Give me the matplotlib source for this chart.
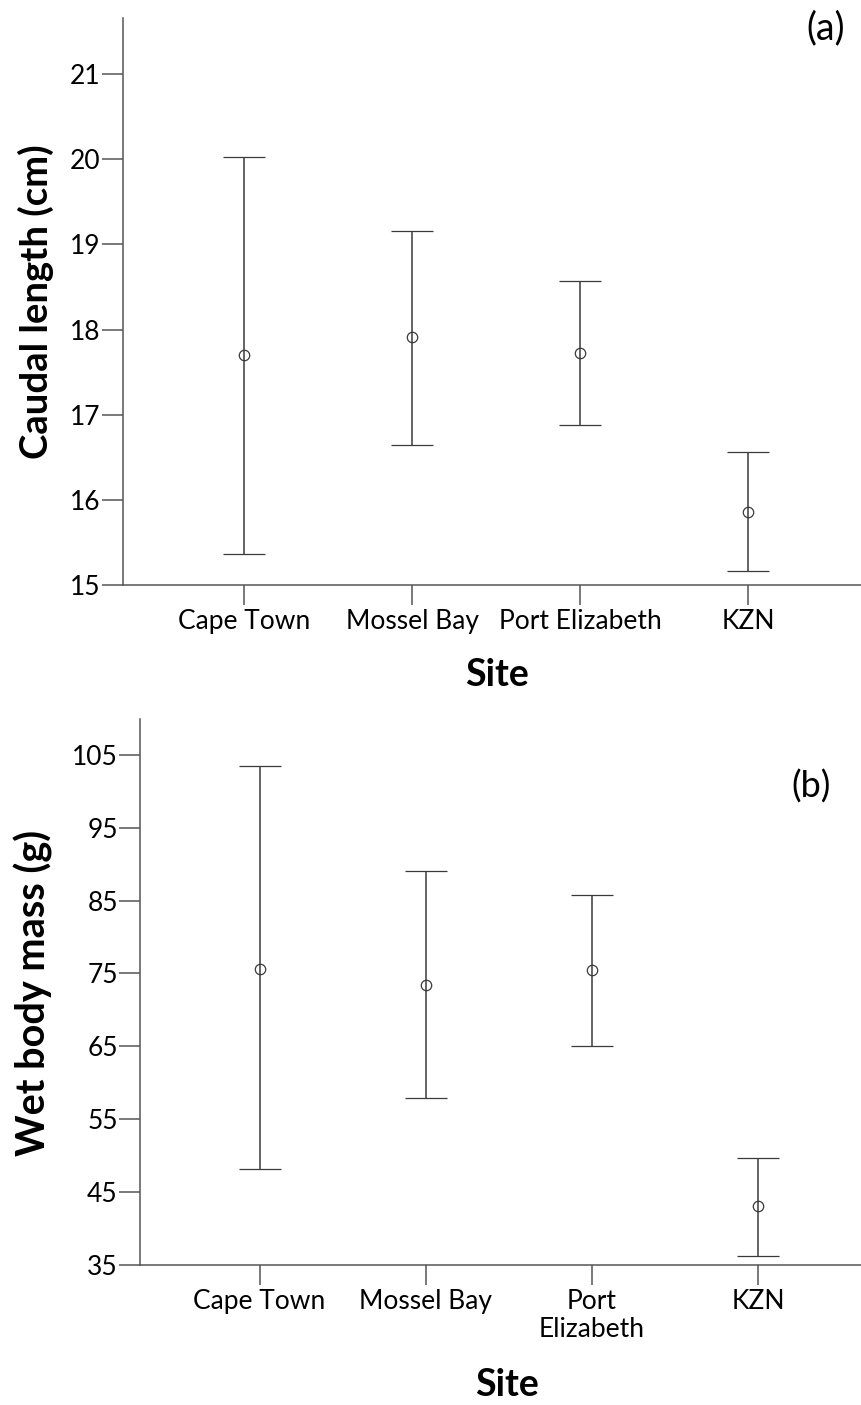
import matplotlib.pyplot as plt

plt.rcParams['font.family'] = ['Lato', 'DejaVu Sans']

# data (mean with lower / upper error bar ends)
sites_a = ['Cape Town', 'Mossel Bay', 'Port Elizabeth', 'KZN']
sites_b = ['Cape Town', 'Mossel Bay', 'Port\nElizabeth', 'KZN']

caudal_mean = [17.70, 17.91, 17.73, 15.86]
caudal_low = [15.36, 16.65, 16.88, 15.17]
caudal_high = [20.03, 19.16, 18.57, 16.56]

mass_mean = [75.6, 73.4, 75.4, 43.1]
mass_low = [48.2, 57.9, 65.0, 36.3]
mass_high = [103.4, 89.0, 85.7, 49.7]

caudal_ticks = [15, 16, 17, 18, 19, 20, 21]
mass_ticks = [35, 45, 55, 65, 75, 85, 95, 105]

W, H = 861, 1405
LINE = '#3a3a3a'
SPINE = '#555555'


def fx(x):
    return x / W


def fy(y):
    return 1 - y / H


def panel(ax, names, mean, low, high, ticks, ylim, xlim, ylabel, ylabel_size):
    pos = list(range(1, len(names) + 1))
    yerr = [[m - l for m, l in zip(mean, low)], [h - m for m, h in zip(mean, high)]]
    ax.errorbar(pos, mean, yerr=yerr, fmt='o', color=LINE, ecolor=LINE,
                elinewidth=1.1, capsize=15, capthick=1.1, markersize=7.5,
                markerfacecolor='none', markeredgecolor=LINE, markeredgewidth=0.9)
    ax.set_xlim(*xlim)
    ax.set_ylim(*ylim)
    ax.set_xticks(pos)
    ax.set_xticklabels(names, fontsize=19, linespacing=1.15)
    ax.set_yticks(ticks)
    ax.set_yticklabels([str(t) for t in ticks], fontsize=19)
    ax.tick_params(axis='y', length=15, width=1.1, color=SPINE, pad=1)
    ax.tick_params(axis='x', length=14.5, width=1.1, color=SPINE, pad=3)
    for s in ['top', 'right']:
        ax.spines[s].set_visible(False)
    for s in ['left', 'bottom']:
        ax.spines[s].set_color(SPINE)
        ax.spines[s].set_linewidth(1.1)
    ax.set_ylabel(ylabel, fontsize=ylabel_size, fontweight='bold', va='center')
    ax.set_xlabel('Site', fontsize=27, fontweight='bold', va='center')


fig = plt.figure(figsize=(W / 100, H / 100), dpi=100)

ax_a = fig.add_axes([fx(123), fy(585), fx(861) - fx(123), fy(18) - fy(585)])
panel(ax_a, sites_a, caudal_mean, caudal_low, caudal_high, caudal_ticks,
      (15, 21.66), (0.28, 4.67), 'Caudal length (cm)', 27.5)
ax_a.yaxis.set_label_coords(fx(36), fy(302), transform=fig.transFigure)
ax_a.xaxis.set_label_coords(fx(497), fy(675), transform=fig.transFigure)
fig.text(fx(826), fy(28), '(a)', fontsize=27, ha='center', va='center')

ax_b = fig.add_axes([fx(140), fy(1265), fx(861) - fx(140), fy(719) - fy(1265)])
panel(ax_b, sites_b, mass_mean, mass_low, mass_high, mass_ticks,
      (35, 109.9), (0.28, 4.62), 'Wet body mass (g)', 28.5)
ax_b.yaxis.set_label_coords(fx(33), fy(993), transform=fig.transFigure)
ax_b.xaxis.set_label_coords(fx(507), fy(1385), transform=fig.transFigure)
fig.text(fx(811), fy(787), '(b)', fontsize=26, ha='center', va='center')

fig.savefig('out.png', dpi=100)
